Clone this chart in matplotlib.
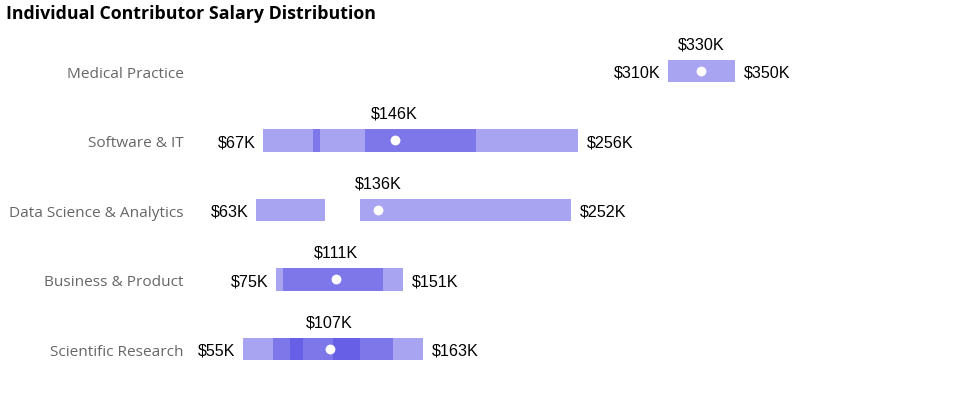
import matplotlib
matplotlib.use("Agg")
import matplotlib.pyplot as plt
from matplotlib.transforms import blended_transform_factory

# salary data in $K
categories = ["Medical Practice", "Software & IT", "Data Science & Analytics",
              "Business & Product", "Scientific Research"]
mins = [310, 67, 63, 75, 55]
medians = [330, 146, 136, 111, 107]
maxs = [350, 256, 252, 151, 163]

# overlapping ranges (drawn semi transparent, overlaps get darker)
medical_ranges = [(310, 350)]
software_ranges = [(67, 101), (97, 256), (128, 195)]
datasci_ranges = [(63, 104), (125, 252)]
business_ranges = [(75, 151), (79, 139)]
research_ranges = [(55, 163), (73, 145), (83, 91), (109, 125)]
all_ranges = [medical_ranges, software_ranges, datasci_ranges,
              business_ranges, research_ranges]

bar_color = "#534be5"
fig = plt.figure(figsize=(9.6, 4.0), dpi=100)
ax = fig.add_axes([0, 0, 1, 1])

for i, ranges in enumerate(all_ranges):
    for (a, b) in ranges:
        ax.barh(i, b - a, left=a, height=0.33, color=bar_color, alpha=0.5,
                linewidth=0)
    ax.scatter(medians[i], i, s=50, color="white", zorder=5, linewidths=0)
    ax.annotate("$%dK" % mins[i], (mins[i], i), xytext=(-5.5, -5),
                textcoords="offset points", ha="right", va="baseline",
                fontsize=11.6, family="Liberation Sans", color="black")
    ax.annotate("$%dK" % maxs[i], (maxs[i], i), xytext=(6.5, -5),
                textcoords="offset points", ha="left", va="baseline",
                fontsize=11.6, family="Liberation Sans", color="black")
    ax.annotate("$%dK" % medians[i], (medians[i], i), xytext=(0, 15.8),
                textcoords="offset points", ha="center", va="baseline",
                fontsize=11.6, family="Liberation Sans", color="black")

trans = blended_transform_factory(fig.transFigure, ax.transData)
for i, name in enumerate(categories):
    ax.annotate(name, (184 / 960, i), xycoords=trans, xytext=(0, -5),
                textcoords="offset points", ha="right", va="baseline",
                fontsize=11.1, family="Open Sans", color="#666666")

ax.set_xlim(-90.8, 485.2)
ax.set_ylim(4.734, -1.0216)
ax.axis("off")

fig.text(6 / 960, 1 - 19 / 400, "Individual Contributor Salary Distribution",
         ha="left", va="baseline", fontsize=12.8, fontweight="bold",
         family="Open Sans", color="black")

fig.savefig("out.png", dpi=100)
